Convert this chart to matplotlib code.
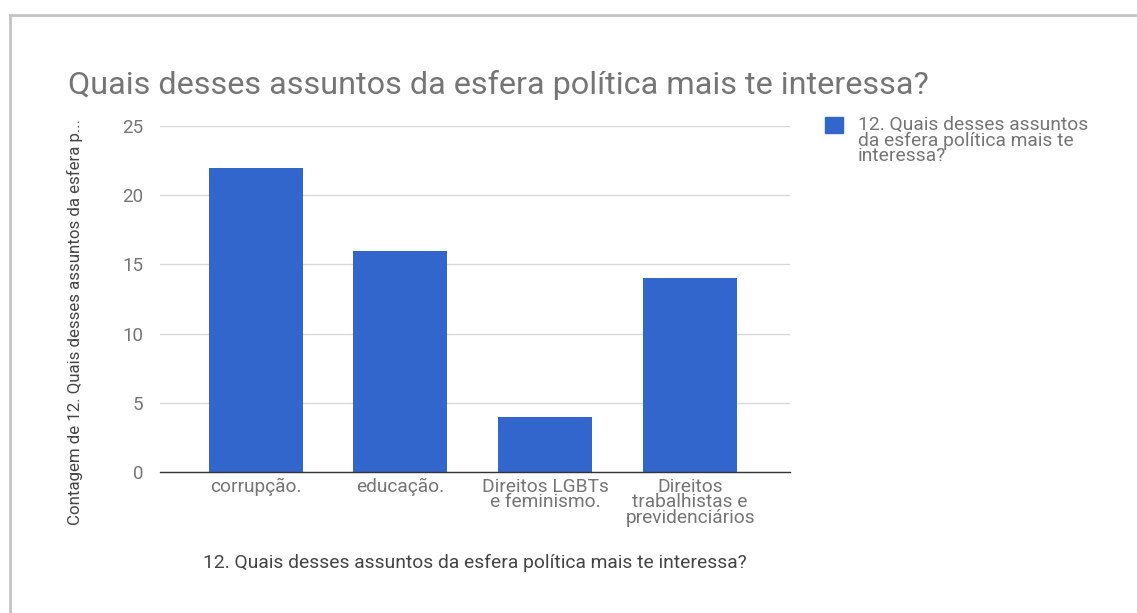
import matplotlib
matplotlib.use("Agg")
import matplotlib.pyplot as plt
from matplotlib.lines import Line2D

plt.rcParams['font.family'] = ['Roboto', 'DejaVu Sans']

categories = ["corrupção.", "educação.", "Direitos LGBTs\ne feminismo.",
              "Direitos\ntrabalhistas e\nprevidenciários"]
counts = [22, 16, 4, 14]
yticks = [0, 5, 10, 15, 20, 25]

title = "Quais desses assuntos da esfera política mais te interessa?"
series_name = "12. Quais desses assuntos\nda esfera política mais te\ninteressa?"
xlabel = "12. Quais desses assuntos da esfera política mais te interessa?"
ylabel = "Contagem de 12. Quais desses assuntos da esfera p..."

W, H = 1137, 613
fig = plt.figure(figsize=(W / 100, H / 100), dpi=100)
fig.patch.set_facecolor("white")

# axes box in pixel coords
left, right, top, bottom = 160, 790, 126, 472
ax = fig.add_axes([left / W, 1 - bottom / H, (right - left) / W, (bottom - top) / H])

x = range(len(categories))
ax.bar(x, counts, width=0.65, color="#3366cc", zorder=3)
ax.set_xlim(-0.66, 3.69)
ax.set_ylim(0, 25)
ax.set_yticks(yticks)
ax.set_xticks(list(x))
ax.set_xticklabels(categories, fontsize=13.8, color="#757575", linespacing=0.85, va="top")
ax.tick_params(axis="y", labelsize=13.5, labelcolor="#757575", length=0, pad=12)
ax.tick_params(axis="x", length=0, pad=4)
ax.grid(axis="y", color="#d9d9d9", linewidth=1, zorder=0)
for s in ["top", "right", "left"]:
    ax.spines[s].set_visible(False)
ax.spines["bottom"].set_color("#333333")
ax.spines["bottom"].set_linewidth(1)
ax.spines["bottom"].set_zorder(4)

fig.text(68 / W, 1 - 85 / H, title, fontsize=23.3, color="#757575", va="center", ha="left")
fig.text(475 / W, 1 - 563 / H, xlabel, fontsize=13.9, color="#444444", va="center", ha="center")
fig.text(75 / W, 1 - 322 / H, ylabel, fontsize=12.2, color="#444444", va="center",
         ha="center", rotation=90)

# legend
fig.add_artist(plt.Rectangle((825 / W, 1 - 133 / H), 18 / W, 16 / H, color="#3366cc",
                             transform=fig.transFigure))
fig.text(858 / W, 1 - 116 / H, series_name, fontsize=13.9, color="#757575", va="top",
         ha="left", linespacing=0.82)

# screenshot frame
fig.add_artist(Line2D([10 / W, 1.0], [1 - 15 / H] * 2, color="#c4c4c4", lw=2,
                      transform=fig.transFigure))
fig.add_artist(Line2D([10 / W] * 2, [0, 1 - 15 / H], color="#c4c4c4", lw=2,
                      transform=fig.transFigure))

fig.savefig("out.png", dpi=100, facecolor="white")
